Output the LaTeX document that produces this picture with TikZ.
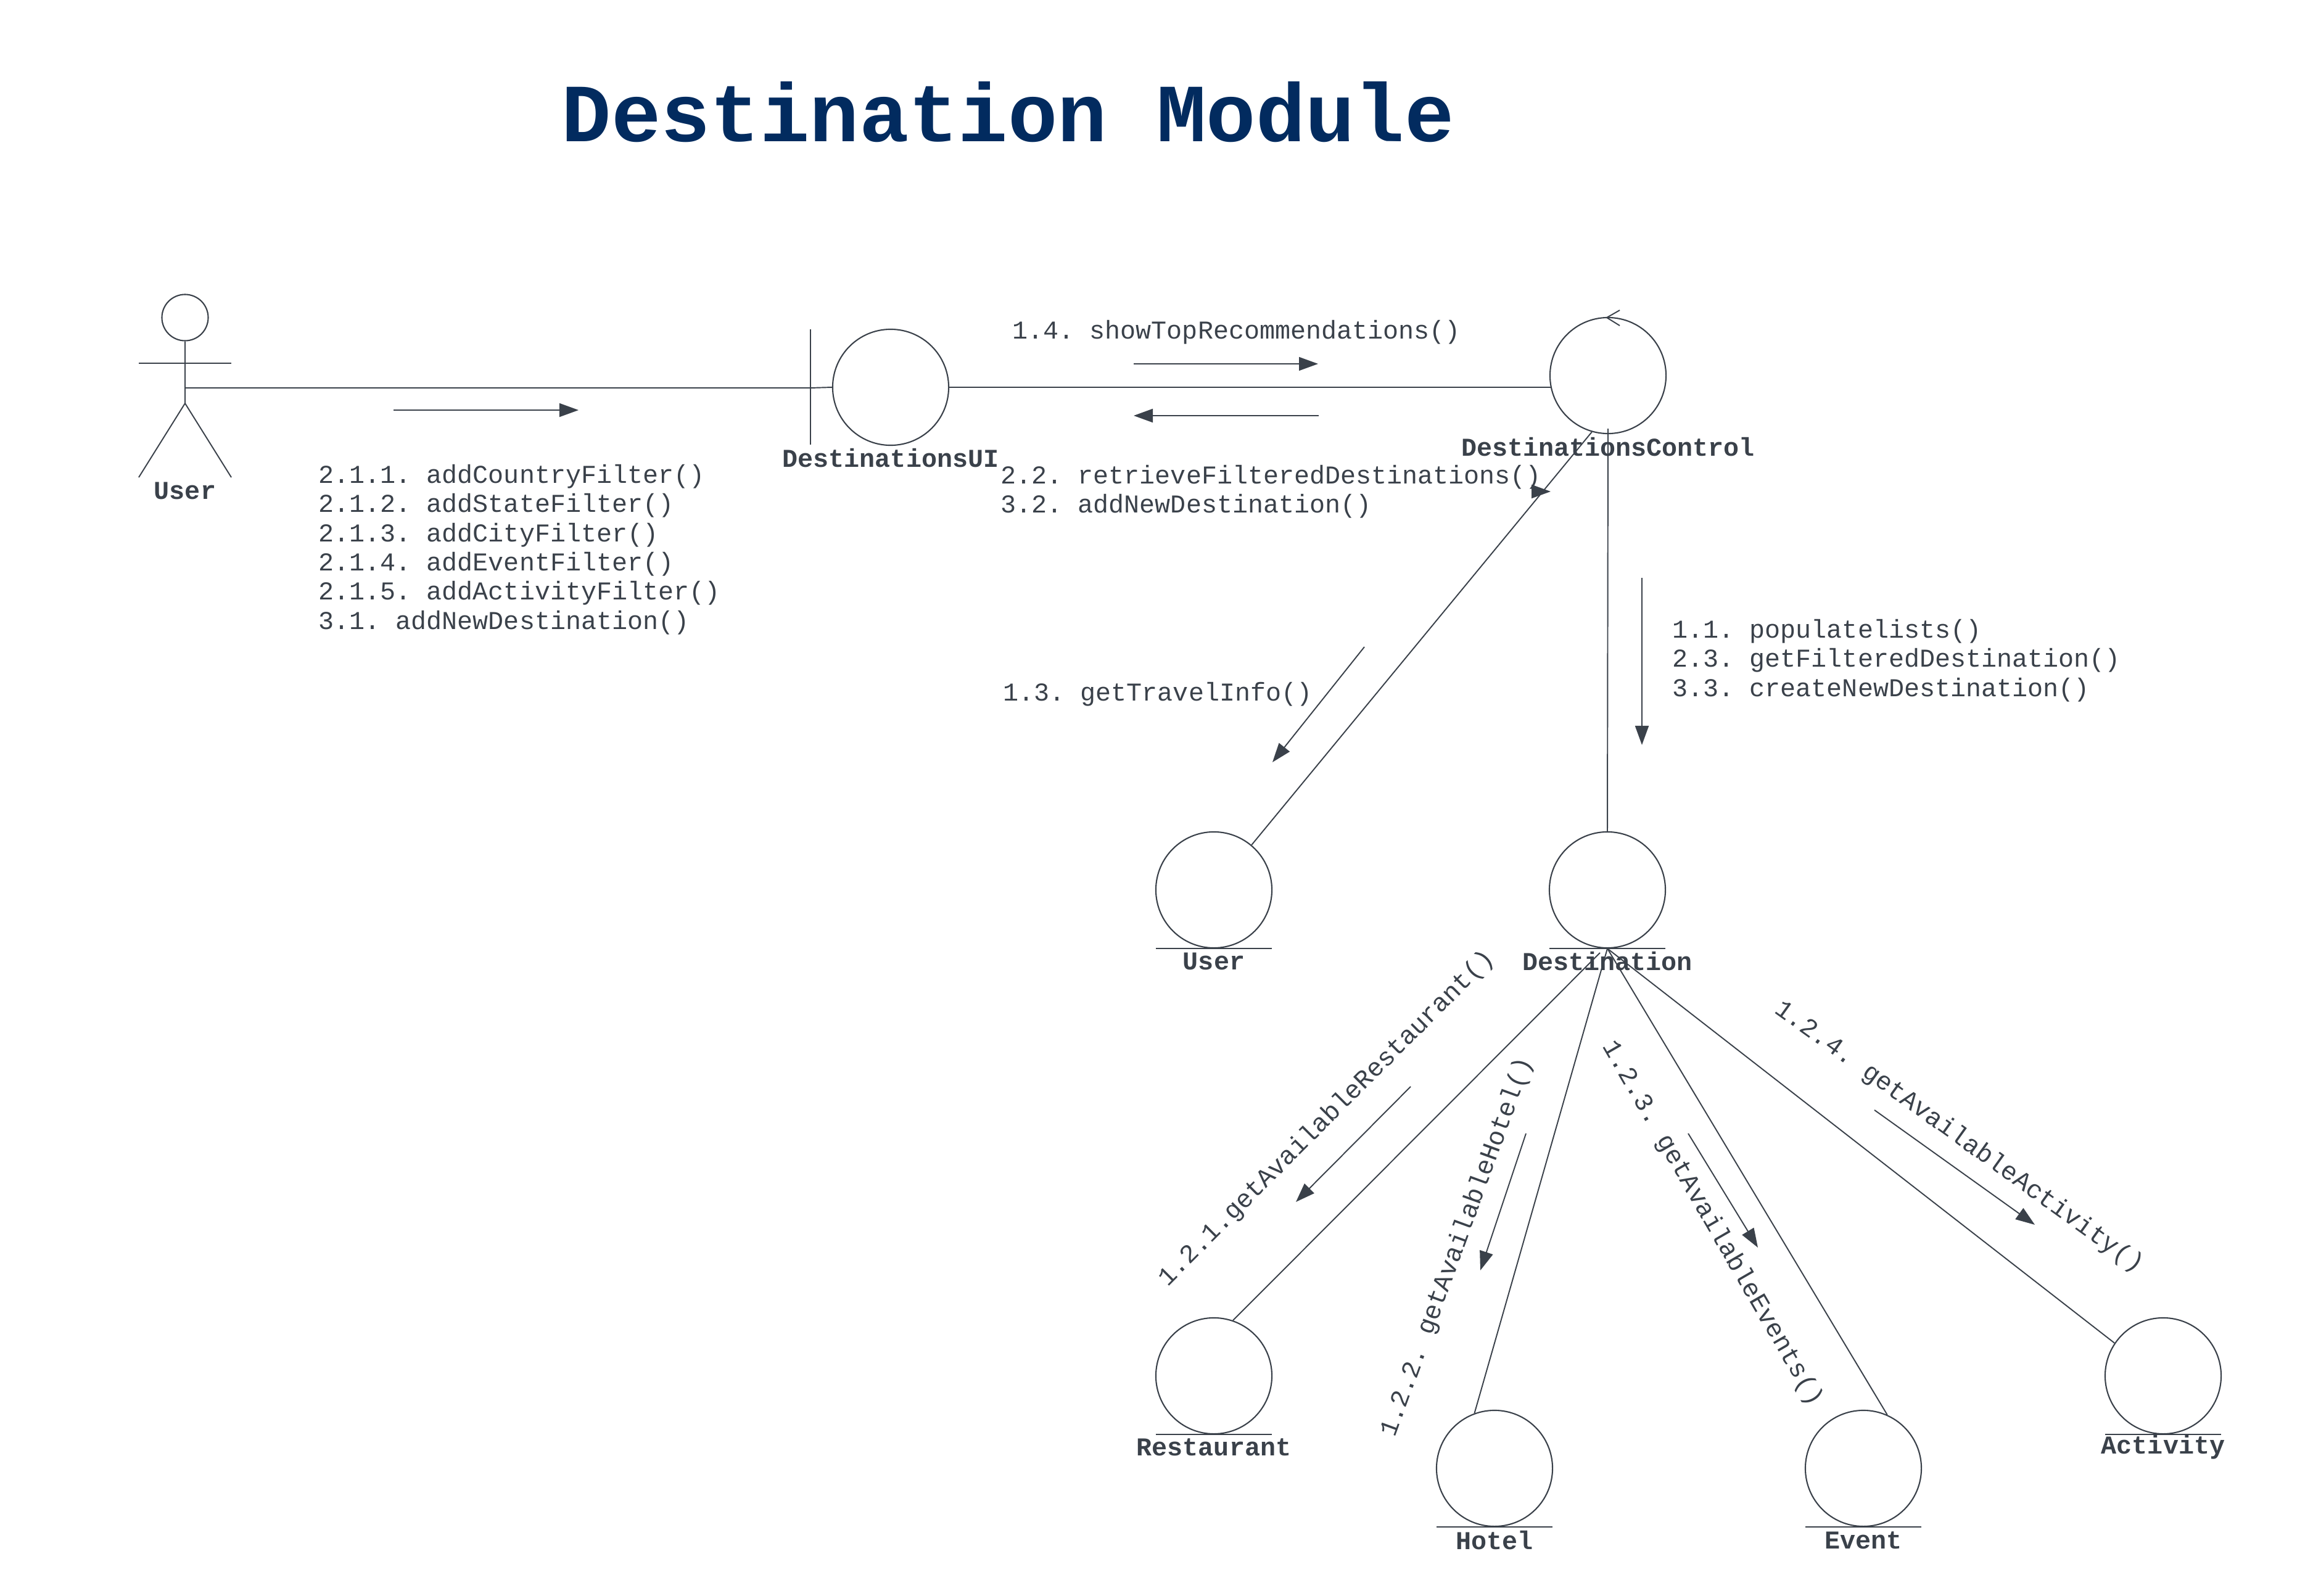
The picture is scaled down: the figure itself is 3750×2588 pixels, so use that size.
\documentclass[tikz,border=0pt]{standalone}
\usepackage{fontspec}
\setmainfont{Liberation Mono}
\usetikzlibrary{arrows.meta,calc}
\definecolor{ink}{HTML}{3A414A}
\definecolor{navy}{HTML}{022B5F}
\frenchspacing
\tikzset{
  obj/.style={circle,draw=ink,line width=0.6pt,minimum size=1.88cm,inner sep=0pt},
  conn/.style={draw=ink,line width=0.55pt},
  thinbar/.style={draw=ink,line width=0.4pt},
  msg/.style={draw=ink,line width=0.55pt,-{Triangle[length=0.31cm,width=0.22cm]}},
  lab/.style={text=ink,font=\fontsize{11.86}{13.5}\selectfont,inner sep=0pt,align=left,anchor=west},
  rot/.style={text=ink,font=\fontsize{11.86}{13.5}\selectfont,inner sep=0pt,anchor=center},
  objname/.style={text=ink,font=\fontsize{11.86}{13.5}\selectfont\bfseries,inner sep=0pt,anchor=center},
}
\begin{document}
\begin{tikzpicture}[x=0.01cm,y=-0.01cm]
\useasboundingbox (0,0) rectangle (3750,2588);
\node[anchor=west,inner sep=0pt,text=navy,font=\fontsize{38.1}{42}\selectfont\bfseries] (title) at (910,182) {Destination Module};

% actor
\node[circle,draw=ink,line width=0.6pt,minimum size=0.75cm,inner sep=0pt] (head) at (300,515) {};
\coordinate (hip) at (300,654);
\coordinate (armL) at (225,589);
\coordinate (armR) at (375,589);
\coordinate (legL) at (225,774);
\coordinate (legR) at (375,774);
\coordinate (actorJoin) at (300,629);
\draw[conn] (head.south) -- (hip);
\draw[conn] (armL) -- (armR);
\draw[conn] (legL) -- (hip) -- (legR);
\node[objname] (actorName) at (300,796) {User};

% lifelines
\node[obj] (ui) at (1444,628) {};
\node[obj] (ctrl) at (2607,609) {};
\node[obj] (userObj) at (1968,1443) {};
\node[obj] (dest) at (2606,1443) {};
\node[obj] (rest) at (1968,2231) {};
\node[obj] (hotel) at (2423,2381) {};
\node[obj] (event) at (3021,2381) {};
\node[obj] (act) at (3507,2231) {};

\coordinate (barT) at (1314,534);
\coordinate (barB) at (1314,721);
\coordinate (barM) at (1314,629);
\coordinate (ctrlIn) at (2515,628);
\draw[thinbar] (barT) -- (barB);
\draw[conn] (actorJoin) -- (barM) -- (ui.west);
\draw[conn] (ui.east) -- (ctrlIn);

% control loop
\coordinate (loopA) at (2626,503);
\coordinate (loopB) at (2626,528);
\coordinate (loopT) at (2605,515);
\draw[conn] (loopA) -- (loopT) -- (loopB);

% entity underlines
\foreach \o in {userObj,dest,rest,hotel,event,act}
  \draw[thinbar] ([xshift=-0.94cm]\o.south) -- ([xshift=0.94cm]\o.south);

% connectors
\draw[conn] (ctrl.254) -- (userObj.50);
\draw[conn] ([yshift=0.09cm]ctrl.south) -- (dest.north);
\coordinate (destL) at (2594,1545);
\draw[conn] (destL) -- (rest.71);
\draw[conn] (dest.south) -- (hotel.110);
\draw[conn] (dest.south) -- (event.66);
\draw[conn] (dest.south) -- (act.146);

% messages
\coordinate (m1a) at (638,665);  \coordinate (m1b) at (938,665);
\coordinate (m2a) at (1838,590); \coordinate (m2b) at (2137,590);
\coordinate (m3a) at (2138,674); \coordinate (m3b) at (1838,674);
\coordinate (m4a) at (2500,797); \coordinate (m4b) at (2514,797);
\coordinate (m5a) at (2212,1049);\coordinate (m5b) at (2063,1236);
\coordinate (m6a) at (2662,937); \coordinate (m6b) at (2662,1208);
\coordinate (m7a) at (2287,1762);\coordinate (m7b) at (2101,1949);
\coordinate (m8a) at (2474,1838);\coordinate (m8b) at (2400,2060);
\coordinate (m9a) at (2737,1838);\coordinate (m9b) at (2850,2023);
\coordinate (m10a) at (3039,1800);\coordinate (m10b) at (3299,1986);
\foreach \i in {1,2,3,5,6,7,8,9,10,4} \draw[msg] (m\i a) -- (m\i b);

% names
\node[objname] (n1) at (1444,743) {DestinationsUI};
\node[objname] (n2) at (2607,725) {DestinationsControl};
\node[objname] (n3) at (1968,1559) {User};
\node[objname] (n4) at (2606,1559) {Destination};
\node[objname] (n5) at (1968,2347) {Restaurant};
\node[objname] (n6) at (3507,2347) {Activity};
\node[objname] (n7) at (2423,2498) {Hotel};
\node[objname] (n8) at (3021,2498) {Event};

% labels
\node[lab] (l1) at (516,891) {2.1.1. addCountryFilter()\\2.1.2. addStateFilter()\\2.1.3. addCityFilter()\\2.1.4. addEventFilter()\\2.1.5. addActivityFilter()\\3.1. addNewDestination()};
\node[lab] (l2) at (1622,797) {2.2. retrieveFilteredDestinations()\\3.2. addNewDestination()};
\node[lab] (l3) at (1641,539) {1.4. showTopRecommendations()};
\node[lab] (l4) at (1626,1126) {1.3. getTravelInfo()};
\node[lab] (l5) at (2711,1071) {1.1. populatelists()\\2.3. getFilteredDestination()\\3.3. createNewDestination()};
\node[rot,rotate=45] (l6) at (2151,1814) {1.2.1.getAvailableRestaurant()};
\node[rot,rotate=70] (l7) at (2363,2022) {1.2.2. getAvailableHotel()};
\node[rot,rotate=-60] (l8) at (2776,1984) {1.2.3. getAvailableEvents()};
\node[rot,rotate=-35.7] (l9) at (3176,1844) {1.2.4. getAvailableActivity()};
\end{tikzpicture}
\end{document}
